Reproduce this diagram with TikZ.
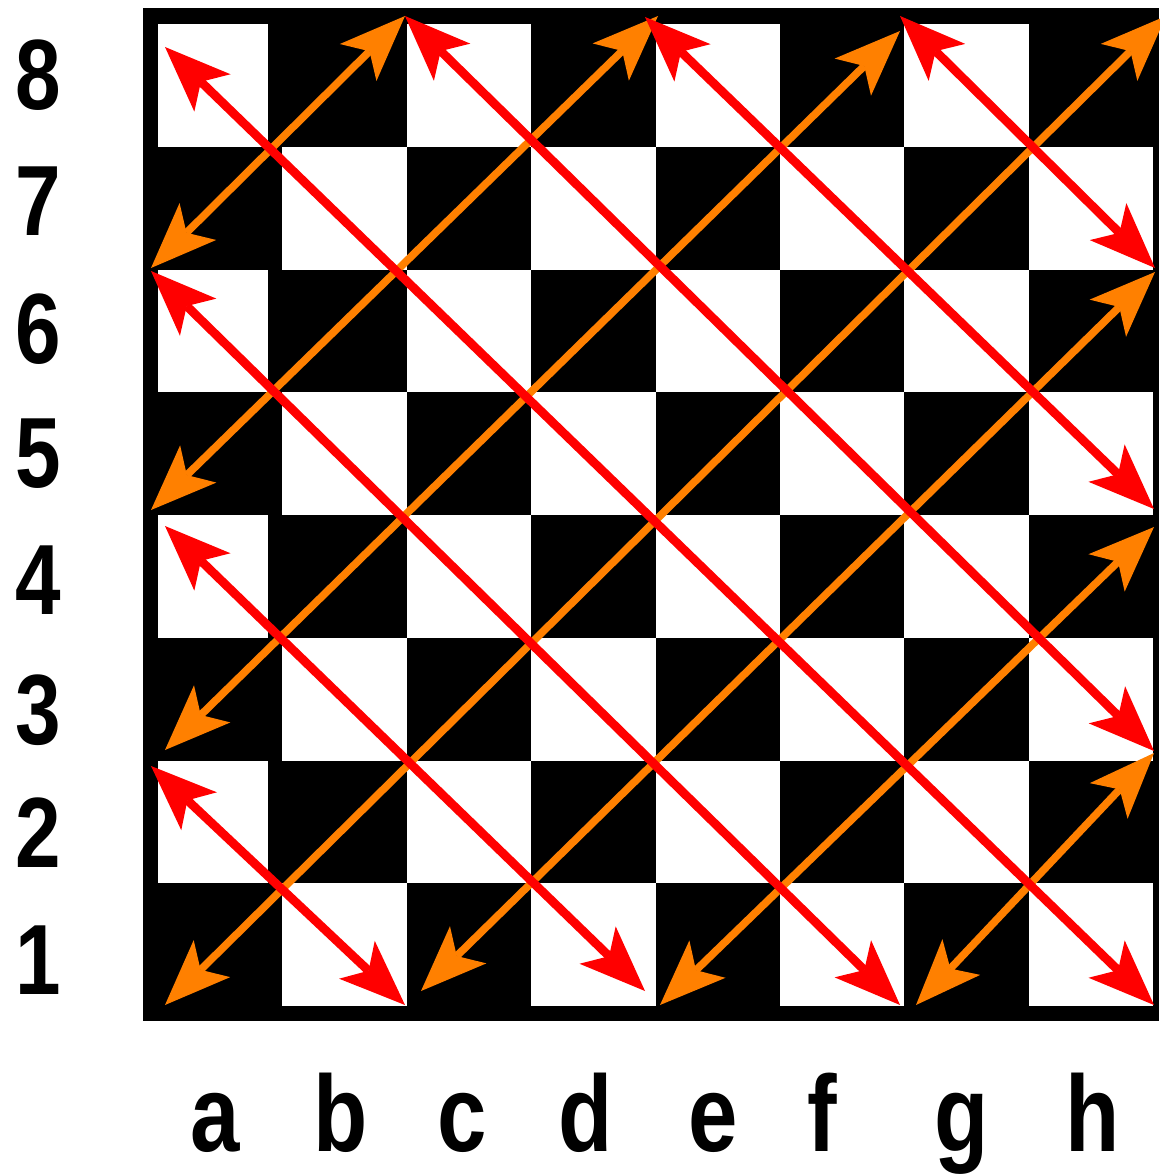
\documentclass[tikz,border=0pt]{standalone}
\usepackage{fontspec}
\usetikzlibrary{arrows.meta}
\newfontfamily\boardfont[FakeStretch=0.82]{Liberation Sans}
\definecolor{diagorange}{RGB}{255,128,0}

\begin{document}
\begin{tikzpicture}[x=0.025cm, y=-0.025cm,
  diag/.style={line width=0.22cm, <->,
    >={Stealth[length=1.65cm, width=1.3cm, inset=0.4cm, line width=0pt]}},
  redarrow/.style={diag, draw=red},
  orangearrow/.style={diag, draw=diagorange, line width=0.19cm},
  rank/.style={font=\boardfont\bfseries\fontsize{71}{72}\selectfont, inner sep=0pt},
  file/.style={font=\boardfont\bfseries\fontsize{77}{78}\selectfont, inner sep=0pt,
    text depth=0pt, anchor=base}]
  \useasboundingbox (0,0) rectangle (1159,1175);
  \fill[white] (0,0) rectangle (1159,1175);
  % board
  \fill (143,8) rectangle (1159,1021);
  \foreach \i in {0,...,7} {
    \foreach \j in {0,...,7} {
      \pgfmathtruncatemacro\odd{mod(\i+\j,2)}
      \pgfmathsetmacro\w{\i==0 ? 110 : 124.4}
      \ifnum\odd=0
        \fill[white] ({158+124.4*\i},{24+122.75*\j}) rectangle ++(\w,122.75);
      \fi
    }
  }
  % labels
  \foreach \n/\y in {8/75, 7/201, 6/329, 5/454, 4/580, 3/710, 2/833, 1/960}
    \node[rank] (n\n) at (38,\y) {\n};
  \foreach \l/\x in {a/215, b/341, c/462, d/586, e/713, f/822, g/962, h/1093}
    \node[file] (l\l) at (\x,1151) {\l};
  % tips
  \coordinate (o1a) at (165,1005);  \coordinate (o1b) at (1166,16);
  \coordinate (o2a) at (151,268);   \coordinate (o2b) at (405,16);
  \coordinate (o3a) at (151,510);   \coordinate (o3b) at (658,16);
  \coordinate (o4a) at (165,750);   \coordinate (o4b) at (900,31);
  \coordinate (o5a) at (421,991);   \coordinate (o5b) at (1155,272);
  \coordinate (o6a) at (660,1005);  \coordinate (o6b) at (1154,527);
  \coordinate (o7a) at (916,1005);  \coordinate (o7b) at (1154,753);
  \coordinate (r1a) at (165,47);    \coordinate (r1b) at (1154,1005);
  \coordinate (r2a) at (405,16);    \coordinate (r2b) at (1154,751);
  \coordinate (r3a) at (645,17);    \coordinate (r3b) at (1154,509);
  \coordinate (r4a) at (900,16);    \coordinate (r4b) at (1155,268);
  \coordinate (r5a) at (151,271);   \coordinate (r5b) at (900,1005);
  \coordinate (r6a) at (165,526);   \coordinate (r6b) at (645,991);
  \coordinate (r7a) at (151,766);   \coordinate (r7b) at (405,1005);
  % arrows
  \foreach \k in {1,...,7} { \draw[orangearrow] (o\k a) -- (o\k b); }
  \foreach \k in {1,...,7} { \draw[redarrow] (r\k a) -- (r\k b); }
\end{tikzpicture}
\end{document}
